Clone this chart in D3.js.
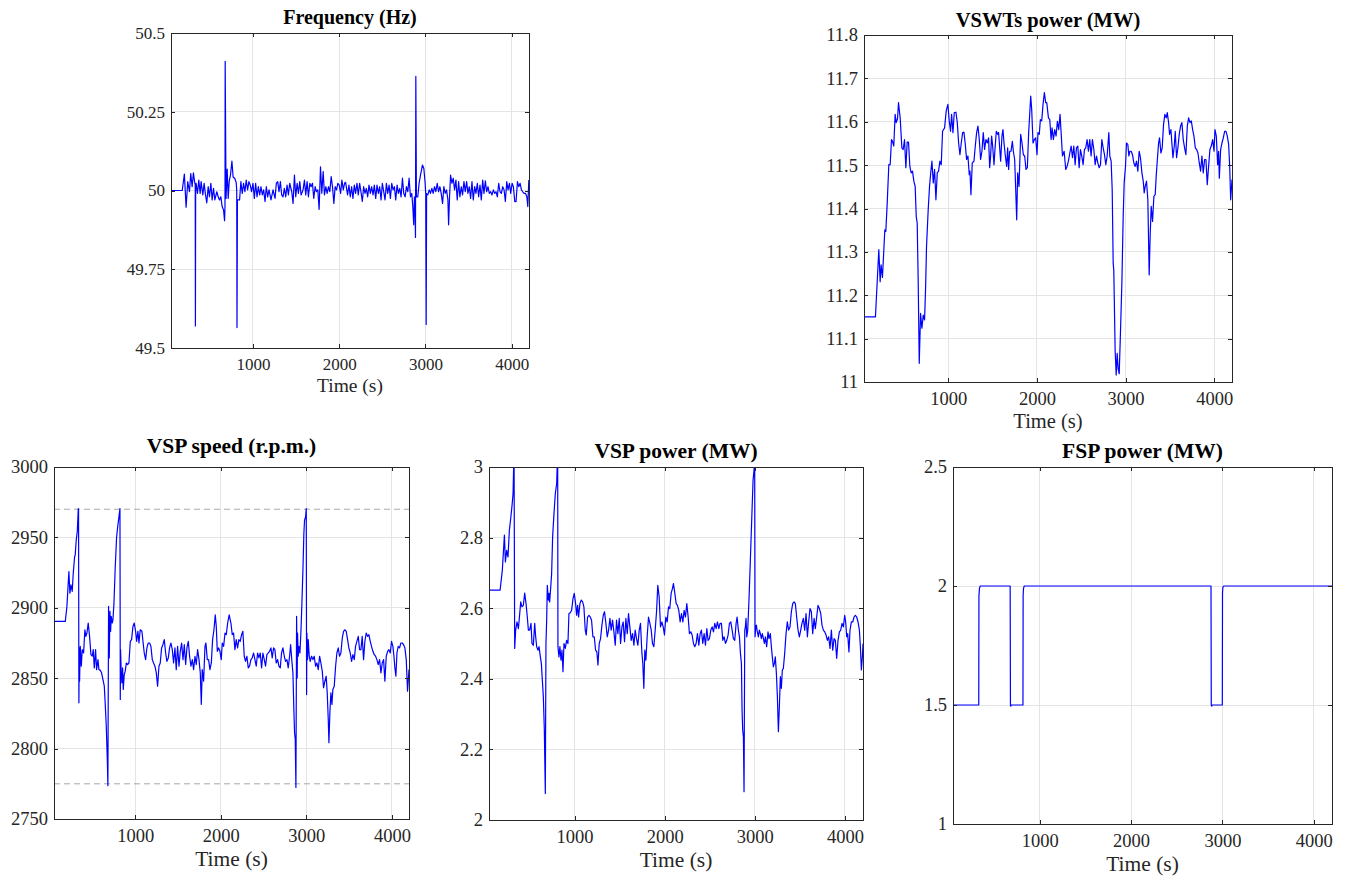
<!DOCTYPE html>
<html lang="en">
<head>
<meta charset="UTF-8" />
<title>Frequency control results</title>
<script src="https://d3js.org/d3.v7.min.js"></script>
<style>
  body { margin: 0; background: #fff; }
  svg { display: block; font-family: 'Liberation Serif', 'Times New Roman', serif; }
  .grid line { stroke: #e4e4e4; stroke-width: 1; shape-rendering: crispEdges; }
  .axis path, .axis line { stroke: #262626; shape-rendering: crispEdges; }
  .axis text { fill: #262626; }
  .trace { fill: none; stroke: #0000ff; stroke-width: 1.2; stroke-linejoin: round; }
  .ref { stroke: #a8a8a8; stroke-width: 1; stroke-dasharray: 6 4; }
  .title { font-weight: bold; fill: #000; text-anchor: middle; }
  .xlabel { fill: #262626; text-anchor: middle; }
</style>
</head>
<body>
<svg id="chart" width="1346" height="879"></svg>
<script>
// ---- data ----
const timeDomain = [50, 4200];
const timeTicks = [1000, 2000, 3000, 4000];

const freqTicks = [49.5, 49.75, 50, 50.25, 50.5];
const vswtTicks = [11, 11.1, 11.2, 11.3, 11.4, 11.5, 11.6, 11.7, 11.8];
const speedTicks = [2750, 2800, 2850, 2900, 2950, 3000];
const vspPowerTicks = [2, 2.2, 2.4, 2.6, 2.8, 3];
const fspTicks = [1, 1.5, 2, 2.5];

const speedLimits = [2970, 2775];

// [time (s), frequency (Hz)]
const frequency = [
  [50,50],[180,50],[205,50.052],[225,49.947],[244,50.028],[264,49.996],[279,50.054],[295,50.012],[310,50.056],[326,50.023],
  [331,50.02],[333,49.57],[336,50.02],[341,50.023],[357,49.991],[372,50.033],[388,49.991],[399,50.028],[419,49.986],[434,50.023],
  [450,49.986],[465,49.961],[481,50.012],[496,49.98],[512,50.023],[527,49.97],[543,50.007],[558,49.97],[581,49.996],[597,49.98],
  [612,49.97],[628,49.98],[643,49.949],[659,49.938],[671,49.904],[676,49.95],[678,50.41],[688,49.975],[701,50.068],[713,49.975],
  [725,50.03],[740,50.05],[756,50.093],[770,50.043],[790,50.038],[806,50.025],[812,50],[815,49.565],[820,49.97],[845,49.97],
  [860,50.028],[876,49.991],[891,50.023],[907,49.996],[922,50.033],[938,50.002],[953,50.028],[969,50.017],[984,49.996],[1000,50.023],
  [1016,49.975],[1031,50.023],[1047,49.98],[1062,50.012],[1078,49.986],[1093,50.012],[1109,49.986],[1124,50.002],[1140,49.965],[1155,50.012],
  [1171,49.98],[1186,50.002],[1209,49.97],[1233,50.002],[1256,49.975],[1271,50.023],[1287,50.028],[1302,49.996],[1318,50.028],[1333,49.986],
  [1349,49.98],[1364,50.007],[1380,49.98],[1395,50.017],[1411,49.986],[1426,50.023],[1450,49.996],[1465,49.959],[1481,50.049],[1496,49.98],
  [1512,50.023],[1527,49.991],[1543,50.028],[1558,49.986],[1581,50.002],[1597,50.033],[1612,49.986],[1628,50.028],[1643,49.98],[1659,50.023],
  [1674,50.012],[1690,50.023],[1705,49.975],[1721,50.012],[1736,49.996],[1752,50.002],[1767,49.94],[1783,50.075],[1798,49.991],[1814,50.06],
  [1829,49.986],[1845,50.012],[1860,49.991],[1876,50.012],[1891,49.996],[1907,50.044],[1922,50.012],[1938,49.959],[1953,50.012],[1969,50.002],
  [1984,50.023],[2000,50.017],[2016,49.991],[2031,50.033],[2047,50.002],[2062,50.023],[2074,50.026],[2097,49.986],[2113,50.017],[2128,49.98],
  [2144,50.012],[2159,49.975],[2175,50.017],[2190,49.991],[2206,50.023],[2221,49.986],[2237,50.023],[2252,49.996],[2268,49.965],[2283,50.012],
  [2299,49.991],[2314,50.007],[2330,49.98],[2345,50.017],[2361,49.991],[2376,50.012],[2392,49.986],[2407,50.017],[2423,49.975],[2438,50.017],
  [2454,49.991],[2469,50.012],[2485,49.97],[2500,50.023],[2516,49.996],[2531,49.97],[2547,50.023],[2562,49.991],[2578,50.017],[2593,49.975],
  [2609,50.023],[2624,50.002],[2640,50.012],[2655,49.97],[2671,50.017],[2686,49.991],[2702,50.007],[2717,49.98],[2733,50.039],[2748,49.991],
  [2764,49.98],[2779,50.012],[2795,49.996],[2810,50.039],[2826,49.98],[2841,49.991],[2853,49.949],[2864,49.891],[2872,49.98],[2880,49.93],
  [2884,49.851],[2888,50.362],[2895,49.98],[2911,49.98],[2926,50.023],[2942,50.049],[2954,50.065],[2965,50.081],[2981,50.07],[2996,50.023],
  [3003,49.99],[3008,49.575],[3013,49.99],[3027,49.986],[3043,50.002],[3058,49.991],[3074,50.007],[3089,49.991],[3105,50.012],[3120,49.996],
  [3136,50.023],[3151,49.996],[3167,50.012],[3182,49.991],[3198,49.959],[3213,50.012],[3229,49.991],[3244,50.002],[3260,49.97],[3268,49.891],
  [3279,49.98],[3291,50.049],[3306,50.023],[3322,50.039],[3337,50.002],[3353,50.033],[3368,49.97],[3384,50.028],[3399,49.98],[3415,50.012],
  [3430,49.986],[3446,50.028],[3461,49.996],[3477,50.028],[3492,49.991],[3508,50.012],[3523,49.975],[3539,50.028],[3554,49.97],[3570,50.012],
  [3585,49.991],[3601,50.023],[3616,49.98],[3632,50.017],[3647,49.97],[3663,50.033],[3678,49.991],[3694,50.031],[3709,49.996],[3725,50.012],
  [3740,49.991],[3756,49.996],[3771,49.986],[3787,50.002],[3802,49.991],[3818,49.996],[3833,49.98],[3849,50.023],[3864,49.996],[3880,49.991],
  [3895,50.012],[3911,50.002],[3926,49.965],[3942,50.028],[3957,50.002],[3973,50.023],[3988,49.991],[4004,50.023],[4019,50.012],[4035,49.965],
  [4050,49.965],[4066,50.028],[4081,50.012],[4097,50.023],[4112,50.002],[4128,49.996],[4143,49.991],[4159,49.991],[4175,49.98],[4186,49.949],
  [4198,50.033]
];

// [time (s), VSWTs power (MW)]
const vswtPower = [
  [50,11.15],[179,11.15],[217,11.305],[232,11.231],[243,11.27],[258,11.241],[285,11.351],[296,11.347],[311,11.409],[330,11.501],
  [345,11.501],[360,11.559],[371,11.555],[386,11.544],[401,11.617],[413,11.598],[428,11.607],[439,11.644],[458,11.609],[477,11.54],
  [492,11.536],[507,11.559],[522,11.494],[537,11.553],[552,11.553],[567,11.497],[582,11.482],[597,11.486],[612,11.463],[627,11.451],
  [639,11.382],[650,11.366],[661,11.235],[673,11.043],[688,11.158],[703,11.124],[718,11.154],[733,11.143],[744,11.212],[755,11.312],
  [774,11.397],[789,11.451],[804,11.486],[816,11.509],[831,11.459],[846,11.49],[861,11.42],[876,11.482],[891,11.486],[906,11.509],
  [921,11.501],[936,11.578],[959,11.586],[977,11.625],[996,11.64],[1011,11.602],[1026,11.578],[1038,11.617],[1053,11.575],[1068,11.621],
  [1087,11.622],[1102,11.598],[1117,11.551],[1132,11.524],[1147,11.551],[1162,11.575],[1177,11.576],[1192,11.548],[1207,11.513],[1222,11.521],
  [1237,11.478],[1245,11.486],[1256,11.432],[1271,11.505],[1290,11.509],[1305,11.544],[1320,11.575],[1335,11.59],[1350,11.559],[1365,11.513],
  [1380,11.532],[1395,11.575],[1410,11.536],[1425,11.559],[1440,11.551],[1455,11.563],[1467,11.494],[1478,11.521],[1489,11.567],[1501,11.544],
  [1516,11.501],[1527,11.536],[1542,11.578],[1557,11.571],[1568,11.575],[1580,11.54],[1591,11.509],[1606,11.567],[1617,11.582],[1629,11.551],
  [1644,11.521],[1659,11.497],[1670,11.54],[1681,11.49],[1693,11.532],[1708,11.532],[1723,11.555],[1734,11.532],[1749,11.513],[1761,11.443],
  [1772,11.374],[1783,11.482],[1798,11.451],[1817,11.571],[1832,11.551],[1847,11.524],[1862,11.521],[1877,11.49],[1892,11.494],[1907,11.575],
  [1930,11.659],[1941,11.629],[1956,11.551],[1971,11.559],[1986,11.563],[2001,11.524],[2012,11.575],[2027,11.571],[2039,11.605],[2054,11.602],
  [2069,11.64],[2084,11.667],[2099,11.644],[2111,11.644],[2130,11.609],[2145,11.605],[2160,11.559],[2171,11.586],[2186,11.559],[2201,11.582],
  [2216,11.567],[2231,11.601],[2246,11.582],[2261,11.617],[2273,11.575],[2288,11.521],[2307,11.532],[2325,11.49],[2340,11.497],[2355,11.509],
  [2371,11.528],[2386,11.544],[2401,11.517],[2416,11.544],[2431,11.501],[2446,11.54],[2461,11.544],[2476,11.494],[2491,11.536],[2506,11.521],
  [2521,11.501],[2536,11.536],[2551,11.54],[2566,11.559],[2581,11.532],[2596,11.559],[2611,11.521],[2626,11.559],[2642,11.536],[2657,11.501],
  [2672,11.521],[2687,11.505],[2702,11.494],[2717,11.501],[2732,11.559],[2747,11.54],[2762,11.524],[2777,11.501],[2792,11.521],[2811,11.575],
  [2822,11.521],[2837,11.509],[2849,11.443],[2860,11.274],[2867,11.258],[2882,11.073],[2894,11.016],[2905,11.066],[2916,11.031],[2928,11.019],
  [2943,11.12],[2958,11.228],[2973,11.382],[2984,11.459],[2999,11.497],[3010,11.551],[3025,11.548],[3037,11.521],[3048,11.532],[3063,11.532],
  [3078,11.524],[3093,11.505],[3108,11.497],[3123,11.509],[3138,11.486],[3153,11.532],[3168,11.517],[3184,11.482],[3199,11.463],[3210,11.436],
  [3221,11.451],[3236,11.463],[3251,11.42],[3266,11.247],[3278,11.343],[3289,11.405],[3304,11.37],[3319,11.428],[3334,11.432],[3345,11.474],
  [3357,11.509],[3372,11.551],[3383,11.563],[3398,11.528],[3413,11.54],[3428,11.594],[3443,11.617],[3458,11.609],[3470,11.621],[3485,11.598],
  [3496,11.571],[3511,11.582],[3522,11.551],[3534,11.517],[3549,11.544],[3560,11.578],[3575,11.517],[3590,11.54],[3605,11.571],[3620,11.59],
  [3635,11.598],[3650,11.559],[3665,11.54],[3680,11.524],[3696,11.59],[3711,11.609],[3726,11.598],[3741,11.602],[3756,11.582],[3771,11.567],
  [3786,11.54],[3801,11.536],[3816,11.528],[3831,11.505],[3846,11.486],[3861,11.521],[3876,11.482],[3891,11.513],[3906,11.513],[3921,11.455],
  [3936,11.497],[3951,11.536],[3966,11.544],[3982,11.559],[3997,11.532],[4008,11.582],[4023,11.567],[4038,11.501],[4049,11.532],[4057,11.47],
  [4072,11.536],[4087,11.551],[4102,11.563],[4117,11.578],[4132,11.578],[4147,11.567],[4162,11.548],[4174,11.497],[4185,11.42],[4200,11.467]
];

// [time (s), VSP speed (r.p.m.)]
const vspSpeed = [
  [50,2890.3],[182,2890.3],[201,2901],[224,2925.7],[236,2910.4],[248,2916.3],[263,2911.6],[275,2924.5],[291,2936.3],[298,2937.5],
  [310,2948.1],[322,2954],[334,2970.5],[337,2969.8],[341,2832.5],[345,2871.5],[349,2847.9],[357,2872.6],[369,2858.5],[380,2870.3],
  [396,2867.9],[411,2884.4],[423,2879.7],[435,2882.1],[450,2889.2],[466,2879.7],[482,2866.7],[497,2865.6],[509,2870.3],[521,2857.3],
  [536,2870.3],[548,2856.1],[564,2863.2],[575,2856.1],[591,2855.7],[606,2853.8],[622,2849.1],[638,2844.3],[649,2831.4],[661,2816],
  [673,2792.5],[680,2773.6],[688,2901],[696,2864.4],[704,2897.4],[712,2883.3],[719,2893.9],[731,2889.2],[739,2891.5],[751,2903.3],
  [766,2929.2],[782,2950.5],[797,2958.7],[809,2964.6],[821,2970.5],[825,2834.9],[828,2870.3],[836,2853.8],[844,2846.7],[852,2857.3],
  [860,2842],[871,2852.6],[883,2855],[895,2860.8],[910,2859.7],[926,2860.8],[942,2876.2],[957,2877.4],[973,2886.8],[988,2889.2],
  [1004,2883.3],[1016,2876.2],[1031,2883.3],[1043,2875],[1058,2884.4],[1078,2883.3],[1090,2876.2],[1105,2867.9],[1121,2863.2],[1136,2871.5],
  [1152,2875],[1168,2875],[1183,2872.6],[1199,2863.2],[1214,2860.8],[1230,2858.5],[1246,2853.8],[1261,2844.3],[1277,2858.5],[1292,2860.8],
  [1308,2871.5],[1323,2873.8],[1339,2877.4],[1355,2867.9],[1370,2862],[1386,2864.4],[1401,2871.5],[1417,2875],[1433,2870.3],[1448,2860.8],
  [1464,2871.5],[1479,2856.1],[1495,2872.6],[1511,2858.5],[1526,2869.1],[1542,2875],[1558,2863.2],[1573,2873.8],[1589,2859.7],[1604,2871.5],
  [1620,2876.2],[1635,2865.6],[1651,2858.5],[1667,2863.2],[1682,2856.1],[1698,2865.6],[1713,2859.7],[1729,2870.3],[1745,2863.2],[1760,2853.8],
  [1772,2831.4],[1783,2856.1],[1799,2847.9],[1815,2872.6],[1826,2875],[1842,2863.2],[1857,2863.2],[1873,2856.1],[1889,2860.8],[1904,2877.4],
  [1920,2884.4],[1935,2895],[1947,2886.8],[1959,2869.1],[1974,2871.5],[1990,2869.1],[2005,2863.2],[2017,2875],[2033,2872.6],[2049,2882.1],
  [2064,2880.9],[2080,2889.2],[2098,2895],[2118,2889.2],[2134,2880.9],[2149,2882.1],[2165,2870.3],[2180,2877.4],[2196,2871.5],[2211,2877.4],
  [2227,2876.2],[2243,2880.9],[2258,2883.3],[2274,2865.6],[2289,2862],[2305,2865.6],[2321,2857.3],[2336,2858.5],[2352,2863.2],[2367,2864.4],
  [2383,2867.9],[2399,2863.2],[2414,2858.5],[2430,2867.9],[2445,2864.4],[2461,2867.9],[2477,2857.3],[2492,2867.9],[2508,2863.2],[2523,2858.5],
  [2539,2866.7],[2554,2867.9],[2570,2869.1],[2586,2871.5],[2601,2864.4],[2617,2871.5],[2632,2870.3],[2648,2860.8],[2664,2863.2],[2679,2858.5],
  [2695,2857.3],[2710,2867.9],[2726,2871.5],[2742,2865.6],[2757,2862],[2773,2863.2],[2788,2857.3],[2804,2865.6],[2816,2873.8],[2831,2862],
  [2843,2853.8],[2855,2825.5],[2862,2811.3],[2870,2806.6],[2878,2772.4],[2886,2893.9],[2893,2850.2],[2897,2882.1],[2905,2865.6],[2913,2872.6],
  [2925,2867.9],[2936,2882.1],[2948,2903.3],[2960,2926.9],[2971,2952.8],[2979,2962.3],[2991,2964.6],[2999,2970.5],[3003,2838.4],[3006,2882.1],
  [3014,2863.2],[3022,2877.4],[3034,2865.6],[3045,2862],[3061,2865.6],[3077,2863.2],[3092,2865.6],[3108,2858.5],[3123,2860.8],[3139,2856.1],
  [3155,2865.6],[3170,2860.8],[3186,2855],[3201,2843.2],[3217,2847.9],[3232,2851.4],[3244,2839.6],[3256,2820.8],[3264,2804.2],[3275,2825.5],
  [3287,2839.6],[3299,2831.4],[3310,2842],[3326,2844.3],[3342,2858.5],[3357,2867.9],[3373,2871.5],[3388,2865.6],[3404,2867.9],[3420,2878.5],
  [3435,2883.3],[3451,2884.4],[3466,2883.3],[3482,2877.4],[3497,2871.5],[3513,2867.9],[3529,2862],[3544,2866.7],[3560,2863.2],[3575,2872.6],
  [3591,2876.2],[3607,2879.7],[3622,2870.3],[3638,2870.3],[3653,2879.7],[3669,2863.2],[3684,2876.2],[3700,2882.1],[3716,2879.7],[3731,2880.9],
  [3747,2876.2],[3762,2872.6],[3778,2869.1],[3794,2866.7],[3809,2865.6],[3825,2863.2],[3840,2859.7],[3856,2863.2],[3872,2853.8],[3887,2860.8],
  [3903,2863.2],[3918,2847.9],[3934,2865.6],[3950,2869.1],[3965,2870.3],[3981,2867.9],[3996,2876.2],[4012,2872.6],[4024,2865.6],[4035,2857.3],
  [4047,2851.4],[4059,2867.9],[4074,2872.6],[4090,2871.5],[4105,2875],[4121,2875],[4137,2873.8],[4152,2871.5],[4168,2863.2],[4176,2851.4],
  [4183,2840.8],[4195,2851.4],[4200,2856.1]
];

// [time (s), VSP power (MW)] - peaks run past the top of the axis
const vspPower = [
  [50,2.651],[173,2.651],[198,2.708],[221,2.807],[232,2.731],[246,2.764],[261,2.745],[276,2.821],[291,2.854],[306,2.892],
  [317,2.925],[328,3.05],[335,2.486],[346,2.538],[361,2.561],[376,2.542],[391,2.585],[402,2.618],[416,2.604],[431,2.608],
  [446,2.643],[461,2.613],[475,2.575],[487,2.538],[501,2.538],[516,2.557],[527,2.5],[542,2.495],[557,2.557],[568,2.519],
  [579,2.491],[594,2.481],[605,2.491],[620,2.462],[631,2.443],[642,2.396],[653,2.349],[664,2.255],[675,2.075],[682,2.5],
  [690,2.566],[697,2.665],[708,2.623],[716,2.642],[723,2.618],[734,2.656],[745,2.698],[756,2.802],[771,2.868],[786,2.925],
  [801,2.953],[812,3.05],[815,2.491],[826,2.462],[837,2.491],[849,2.453],[860,2.481],[871,2.42],[882,2.5],[897,2.486],
  [911,2.509],[926,2.5],[937,2.585],[952,2.587],[967,2.594],[982,2.627],[996,2.642],[1011,2.613],[1022,2.58],[1033,2.608],
  [1044,2.575],[1059,2.613],[1074,2.623],[1089,2.618],[1103,2.604],[1118,2.538],[1129,2.524],[1144,2.575],[1159,2.58],[1174,2.575],
  [1188,2.566],[1203,2.519],[1218,2.519],[1233,2.481],[1247,2.476],[1259,2.439],[1273,2.5],[1288,2.514],[1303,2.552],[1318,2.58],
  [1332,2.59],[1347,2.557],[1362,2.519],[1377,2.538],[1392,2.571],[1406,2.538],[1421,2.566],[1436,2.533],[1451,2.495],[1465,2.566],
  [1480,2.528],[1495,2.571],[1510,2.5],[1525,2.547],[1539,2.561],[1554,2.505],[1569,2.571],[1584,2.528],[1598,2.585],[1613,2.547],
  [1628,2.509],[1643,2.528],[1658,2.495],[1672,2.538],[1687,2.514],[1702,2.495],[1717,2.538],[1731,2.557],[1746,2.476],[1757,2.443],
  [1768,2.373],[1779,2.481],[1791,2.453],[1805,2.519],[1820,2.575],[1835,2.557],[1850,2.538],[1864,2.5],[1879,2.491],[1894,2.538],
  [1909,2.59],[1923,2.665],[1938,2.632],[1953,2.547],[1968,2.561],[1983,2.547],[1997,2.524],[2012,2.575],[2027,2.561],[2042,2.604],
  [2056,2.599],[2071,2.642],[2086,2.656],[2097,2.67],[2112,2.642],[2127,2.613],[2141,2.608],[2156,2.594],[2171,2.561],[2186,2.585],
  [2201,2.561],[2215,2.594],[2230,2.575],[2245,2.613],[2260,2.575],[2274,2.528],[2289,2.533],[2304,2.524],[2319,2.5],[2333,2.491],
  [2348,2.5],[2363,2.528],[2378,2.495],[2393,2.528],[2407,2.538],[2422,2.5],[2437,2.528],[2452,2.495],[2467,2.542],[2481,2.509],
  [2496,2.514],[2511,2.538],[2526,2.547],[2541,2.533],[2555,2.557],[2570,2.542],[2585,2.561],[2600,2.542],[2614,2.557],[2629,2.557],
  [2644,2.509],[2659,2.519],[2674,2.5],[2688,2.509],[2703,2.524],[2718,2.557],[2733,2.561],[2748,2.538],[2762,2.514],[2777,2.509],
  [2792,2.557],[2803,2.575],[2817,2.538],[2829,2.519],[2840,2.472],[2851,2.443],[2858,2.311],[2865,2.255],[2873,2.236],[2880,2.08],
  [2888,2.538],[2895,2.547],[2902,2.571],[2910,2.519],[2921,2.538],[2936,2.632],[2950,2.736],[2965,2.849],[2980,2.962],[2991,2.991],
  [2998,3.05],[3002,2.519],[3010,2.547],[3017,2.552],[3024,2.538],[3039,2.519],[3050,2.538],[3061,2.528],[3072,2.514],[3083,2.528],
  [3095,2.514],[3106,2.5],[3117,2.519],[3131,2.491],[3146,2.533],[3157,2.514],[3172,2.528],[3183,2.491],[3194,2.462],[3205,2.434],
  [3216,2.443],[3227,2.462],[3239,2.415],[3250,2.349],[3261,2.25],[3272,2.321],[3283,2.406],[3294,2.373],[3305,2.425],[3316,2.429],
  [3331,2.472],[3346,2.528],[3360,2.561],[3375,2.538],[3390,2.547],[3405,2.59],[3420,2.613],[3435,2.618],[3449,2.613],[3464,2.575],
  [3479,2.538],[3494,2.519],[3509,2.538],[3523,2.557],[3538,2.571],[3553,2.538],[3568,2.585],[3583,2.519],[3597,2.561],[3612,2.599],
  [3627,2.59],[3642,2.528],[3657,2.571],[3671,2.542],[3686,2.575],[3701,2.608],[3716,2.599],[3731,2.585],[3745,2.552],[3760,2.538],
  [3775,2.533],[3790,2.524],[3805,2.509],[3819,2.519],[3834,2.486],[3849,2.538],[3864,2.481],[3879,2.514],[3893,2.509],[3908,2.458],
  [3923,2.509],[3938,2.533],[3953,2.538],[3967,2.557],[3982,2.547],[3997,2.58],[4008,2.561],[4019,2.519],[4030,2.528],[4044,2.476],
  [4056,2.538],[4071,2.561],[4086,2.561],[4101,2.575],[4115,2.58],[4130,2.575],[4145,2.561],[4160,2.538],[4171,2.491],[4182,2.425],
  [4193,2.462],[4200,2.5]
];

// [time (s), FSP power (MW)]
const fspPower = [
  [50,1.5],[332,1.5],[334,1.96],[340,1.99],[348,2],[676,2],[679,1.5],[682,1.495],[690,1.5],[816,1.5],[818,1.96],[822,1.99],
  [830,2],[2875,2],[2878,1.5],[2882,1.495],[2890,1.5],[2999,1.5],[3001,1.97],[3005,1.995],[3015,2],[4200,2]
];

// ---- layout ----
const panels = [
  { title: "Frequency (Hz)", data: frequency, yDomain: [49.5, 50.5], yTicks: freqTicks,
    box: [171, 33, 529, 348], tickSize: 17, titleSize: 20, labelSize: 19.5, titleGap: 9, labelGap: 44 },
  { title: "VSWTs power (MW)", data: vswtPower, yDomain: [11, 11.8], yTicks: vswtTicks,
    box: [864, 35, 1232, 382], tickSize: 18.5, titleSize: 20.5, labelSize: 20.5, titleGap: 8, labelGap: 46 },
  { title: "VSP speed (r.p.m.)", data: vspSpeed, yDomain: [2750, 3000], yTicks: speedTicks, refLines: speedLimits,
    box: [54, 467, 409, 819], tickSize: 18.5, titleSize: 21.5, labelSize: 21.5, titleGap: 14, labelGap: 47 },
  { title: "VSP power (MW)", data: vspPower, yDomain: [2, 3], yTicks: vspPowerTicks,
    box: [489, 467, 863, 820], tickSize: 18.5, titleSize: 21.5, labelSize: 21.5, titleGap: 9, labelGap: 47 },
  { title: "FSP power (MW)", data: fspPower, yDomain: [1, 2.5], yTicks: fspTicks,
    box: [953, 467, 1332, 824], tickSize: 18.5, titleSize: 21.5, labelSize: 21.5, titleGap: 9, labelGap: 47 }
];

const svg = d3.select("#chart");
svg.append("rect").attr("width", 1346).attr("height", 879).attr("fill", "#fff");

function drawPanel(p, i) {
  const [x0, y0, x1, y1] = p.box;
  const w = x1 - x0, h = y1 - y0;
  const x = d3.scaleLinear().domain(timeDomain).range([0, w]);
  const y = d3.scaleLinear().domain(p.yDomain).range([h, 0]);

  const g = svg.append("g").attr("transform", `translate(${x0},${y0})`);

  // grid
  const grid = g.append("g").attr("class", "grid");
  grid.selectAll(".gx").data(timeTicks).join("line")
    .attr("x1", d => x(d)).attr("x2", d => x(d)).attr("y1", 0).attr("y2", h);
  grid.selectAll(".gy").data(p.yTicks).join("line")
    .attr("x1", 0).attr("x2", w).attr("y1", d => y(d)).attr("y2", d => y(d));

  // limit lines
  if (p.refLines) {
    g.selectAll(".ref").data(p.refLines).join("line")
      .attr("class", "ref")
      .attr("x1", 0).attr("x2", w)
      .attr("y1", d => y(d)).attr("y2", d => y(d));
  }

  // trace, clipped to the axes
  g.append("clipPath").attr("id", `clip${i}`)
    .append("rect").attr("width", w).attr("height", h);

  const line = d3.line().x(d => x(d[0])).y(d => y(d[1]));
  g.append("path")
    .datum(p.data)
    .attr("class", "trace")
    .attr("clip-path", `url(#clip${i})`)
    .attr("d", line);

  // axes: inward ticks on all four sides, labels on left and bottom
  const fmt = d => String(d);
  const styleAxis = sel => sel.attr("class", "axis")
    .attr("font-family", null).attr("font-size", p.tickSize);

  g.append("g").attr("transform", `translate(0,${h})`)
    .call(d3.axisBottom(x).tickValues(timeTicks).tickFormat(fmt).tickSize(-4).tickSizeOuter(0).tickPadding(10))
    .call(styleAxis);
  g.append("g")
    .call(d3.axisLeft(y).tickValues(p.yTicks).tickFormat(fmt).tickSize(-4).tickSizeOuter(0).tickPadding(6))
    .call(styleAxis);
  g.append("g")
    .call(d3.axisTop(x).tickValues(timeTicks).tickFormat("").tickSize(-4).tickSizeOuter(0))
    .call(styleAxis);
  g.append("g").attr("transform", `translate(${w},0)`)
    .call(d3.axisRight(y).tickValues(p.yTicks).tickFormat("").tickSize(-4).tickSizeOuter(0))
    .call(styleAxis);

  g.append("text").attr("class", "title")
    .attr("x", w / 2).attr("y", -p.titleGap)
    .attr("font-size", p.titleSize)
    .text(p.title);

  g.append("text").attr("class", "xlabel")
    .attr("x", w / 2).attr("y", h + p.labelGap)
    .attr("font-size", p.labelSize)
    .text("Time (s)");
}

panels.forEach(drawPanel);
</script>
</body>
</html>
